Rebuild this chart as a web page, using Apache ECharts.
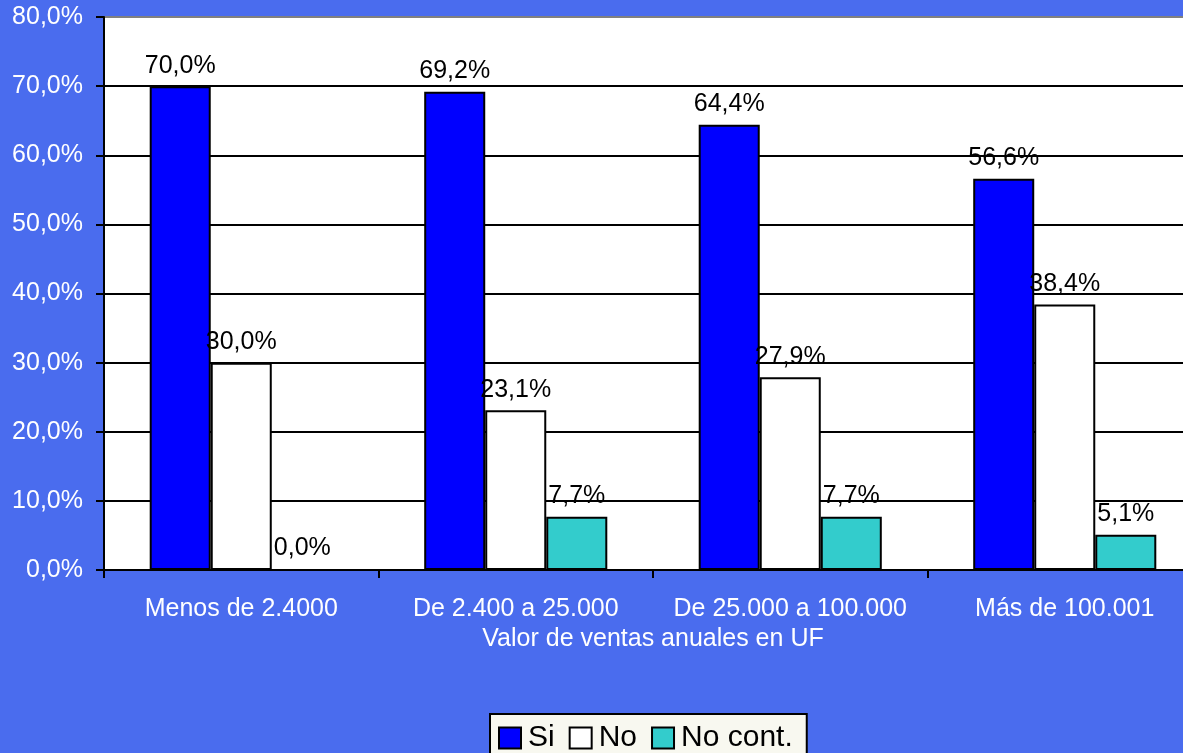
<!DOCTYPE html>
<html>
<head>
<meta charset="utf-8">
<script src="https://cdn.jsdelivr.net/npm/echarts@6/dist/echarts.min.js"></script>
<style>
html,body{margin:0;padding:0;background:#4A6CEE;overflow:hidden;width:1183px;height:753px;}
#chart{width:1202px;height:753px;}
</style>
</head>
<body>
<div id="chart"></div>
<script>
const categories = ['Menos de 2.4000', 'De 2.400 a 25.000', 'De 25.000 a 100.000', 'Más de 100.001'];
const siValues = [70.0, 69.2, 64.4, 56.6];
const noValues = [30.0, 23.1, 27.9, 38.4];
const noContValues = [0.0, 7.7, 7.7, 5.1];
const seriesNames = ['Si', 'No', 'No cont.'];
const axisTitle = 'Valor de ventas anuales en UF';

const FONT = 'Liberation Sans, Arial, sans-serif';
const FS = 25;
const fmt = v => v.toFixed(1).replace('.', ',') + '%';

function bar(name, data, color) {
  return {
    name: name,
    type: 'bar',
    data: data,
    barGap: '0%',
    barCategoryGap: '33.3%',
    itemStyle: { color: color, borderColor: '#000', borderWidth: 2 },
    label: {
      show: true,
      position: 'top',
      distance: 8,
      color: '#000',
      fontFamily: FONT,
      fontSize: FS,
      formatter: p => fmt(p.value)
    }
  };
}

const chart = echarts.init(document.getElementById('chart'));
chart.setOption({
  backgroundColor: '#4A6CEE',
  animation: false,
  textStyle: { fontFamily: FONT },
  grid: {
    left: 104, right: 0, top: 17, bottom: 183,
    show: true, backgroundColor: '#FFFFFF',
    borderColor: '#808080', borderWidth: 2
  },
  legend: {
    data: seriesNames,
    left: 490, top: 714,
    orient: 'horizontal',
    backgroundColor: '#F8F8F0',
    borderColor: '#000', borderWidth: 2, borderRadius: 0,
    padding: [9, 14, 12, 8],
    itemWidth: 22, itemHeight: 21, itemGap: 14,
    icon: 'rect',
    itemStyle: { borderColor: '#000', borderWidth: 2 },
    textStyle: { color: '#000', fontSize: 30, fontFamily: FONT, padding: [0, 0, 0, 2] }
  },
  xAxis: {
    type: 'category',
    data: categories,
    name: axisTitle,
    nameLocation: 'middle',
    nameGap: 55,
    nameTextStyle: { color: '#FFFFFF', fontSize: FS, fontFamily: FONT },
    axisLine: { show: true, lineStyle: { color: '#000', width: 2 } },
    axisTick: { show: true, length: 8, lineStyle: { color: '#000', width: 2 } },
    axisLabel: { color: '#FFFFFF', fontSize: FS, fontFamily: FONT, margin: 27, interval: 0 }
  },
  yAxis: {
    type: 'value',
    min: 0, max: 80, interval: 10,
    axisLine: { show: true, lineStyle: { color: '#000', width: 2 } },
    axisTick: { show: true, length: 8, lineStyle: { color: '#000', width: 2 } },
    axisLabel: { color: '#FFFFFF', fontSize: FS, fontFamily: FONT, margin: 21, formatter: v => fmt(v) },
    splitLine: { show: true, showMaxLine: false, lineStyle: { color: '#000', width: 2 } }
  },
  series: [
    bar(seriesNames[0], siValues, '#0000FF'),
    bar(seriesNames[1], noValues, '#FFFFFF'),
    bar(seriesNames[2], noContValues, '#33CCCC')
  ]
});
</script>
</body>
</html>
